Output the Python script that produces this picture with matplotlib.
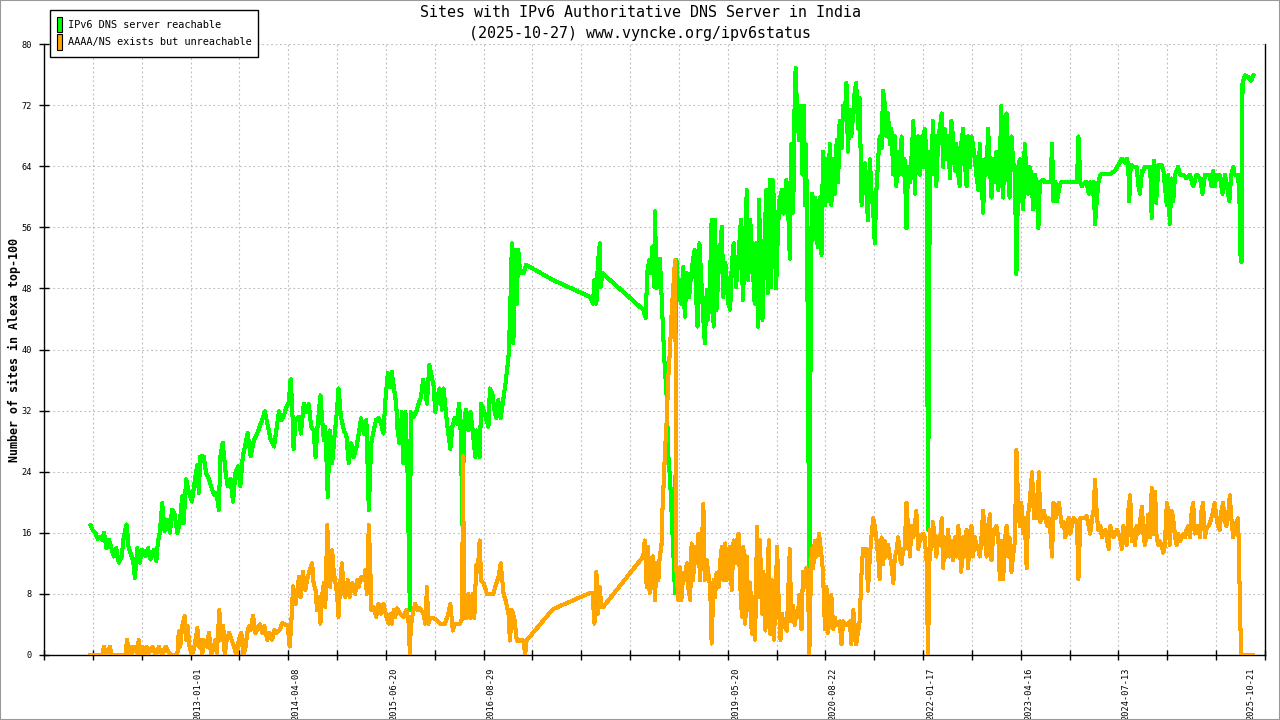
import matplotlib
matplotlib.use("Agg")
import matplotlib.pyplot as plt
from matplotlib.patches import Patch, Rectangle

plt.rcParams['font.family'] = ['DejaVu Sans Mono']

# x is measured in axis tick steps (26 ticks, 0..25), y in number of sites
reachable = [
    (0.95, 17.0), (1.01, 16.2), (1.05, 16.0), (1.10, 15.2), (1.14, 15.5), (1.19, 15.1), (1.23, 16.0),
    (1.28, 14.0), (1.33, 15.1), (1.38, 14.0), (1.43, 12.9), (1.48, 14.0), (1.53, 12.1), (1.59, 12.9),
    (1.63, 15.3), (1.69, 17.1), (1.73, 14.2), (1.77, 13.4), (1.83, 12.1), (1.86, 10.1), (1.91, 14.0),
    (1.96, 12.1), (2.01, 13.8), (2.08, 12.9), (2.13, 14.0), (2.18, 12.5), (2.25, 13.8), (2.30, 12.3),
    (2.33, 14.7), (2.37, 16.0), (2.42, 19.9), (2.47, 16.2), (2.52, 17.7), (2.58, 16.0), (2.62, 19.0),
    (2.67, 18.6), (2.73, 16.0), (2.78, 17.3), (2.83, 20.8), (2.86, 17.3), (2.91, 23.0), (2.97, 21.2),
    (3.03, 20.1), (3.09, 23.0), (3.14, 24.9), (3.17, 21.2), (3.20, 26.0), (3.27, 26.0), (3.32, 23.8),
    (3.38, 23.0), (3.42, 22.1), (3.48, 21.0), (3.53, 21.2), (3.58, 19.0), (3.61, 26.0), (3.66, 27.8),
    (3.72, 23.8), (3.76, 22.1), (3.82, 23.0), (3.87, 20.1), (3.92, 23.8), (3.97, 24.7), (4.02, 22.1),
    (4.07, 26.0), (4.13, 27.8), (4.17, 29.1), (4.23, 26.0), (4.30, 28.2), (4.37, 29.1), (4.42, 30.0),
    (4.47, 30.8), (4.52, 31.9), (4.57, 30.4), (4.64, 28.2), (4.71, 27.3), (4.77, 30.0), (4.81, 31.9),
    (4.86, 30.8), (4.91, 31.3), (4.97, 32.6), (5.01, 33.0), (5.05, 36.1), (5.08, 32.9), (5.11, 27.0),
    (5.15, 30.8), (5.22, 31.2), (5.26, 29.0), (5.32, 32.9), (5.37, 31.8), (5.42, 32.9), (5.47, 29.9),
    (5.52, 29.4), (5.56, 25.9), (5.60, 29.9), (5.66, 34.0), (5.69, 31.2), (5.73, 28.1), (5.76, 29.9),
    (5.81, 20.7), (5.85, 29.4), (5.90, 25.1), (5.95, 28.8), (6.00, 32.1), (6.03, 34.9), (6.08, 31.2),
    (6.14, 29.4), (6.19, 28.8), (6.24, 25.1), (6.29, 27.7), (6.34, 25.9), (6.40, 27.3), (6.44, 28.8),
    (6.49, 31.0), (6.55, 29.0), (6.60, 30.8), (6.65, 19.0), (6.70, 27.7), (6.75, 29.4), (6.80, 30.8),
    (6.85, 31.0), (6.90, 30.3), (6.95, 29.0), (6.99, 33.4), (7.04, 36.9), (7.09, 35.1), (7.12, 37.1),
    (7.17, 34.7), (7.21, 32.9), (7.24, 29.4), (7.28, 27.7), (7.33, 31.8), (7.36, 25.1), (7.40, 31.8),
    (7.44, 25.1), (7.49, 5.9), (7.51, 31.8), (7.57, 31.2), (7.62, 31.8), (7.67, 32.9), (7.72, 33.8),
    (7.76, 36.0), (7.81, 34.7), (7.84, 32.9), (7.89, 38.0), (7.94, 36.4), (7.98, 35.1), (8.01, 31.8),
    (8.06, 33.8), (8.10, 34.9), (8.15, 32.1), (8.18, 34.9), (8.23, 31.8), (8.26, 29.9), (8.32, 27.0),
    (8.36, 29.9), (8.41, 31.0), (8.45, 30.3), (8.50, 32.9), (8.53, 29.4), (8.57, 16.8), (8.60, 30.3),
    (8.64, 32.1), (8.69, 29.4), (8.73, 31.8), (8.77, 29.9), (8.83, 25.9), (8.86, 29.4), (8.92, 25.9),
    (8.95, 32.9), (9.00, 32.1), (9.05, 31.0), (9.10, 29.9), (9.13, 34.9), (9.18, 34.3), (9.22, 32.1),
    (9.26, 31.0), (9.30, 33.4), (9.35, 31.0), (9.41, 33.8), (9.45, 35.6), (9.48, 37.3), (9.51, 39.0),
    (9.54, 43.9), (9.58, 53.9), (9.61, 40.8), (9.65, 53.0), (9.68, 46.0), (9.71, 53.0), (9.75, 50.0),
    (9.82, 50.0), (9.87, 51.1), (10.42, 49.1), (11.18, 46.9),
    (11.24, 46.0), (11.27, 49.1), (11.31, 46.0), (11.34, 51.3), (11.38, 53.9), (11.40, 48.2), (11.43, 50.0),
    (11.85, 47.6), (12.27, 45.2), (12.32, 44.1), (12.35, 50.0), (12.39, 51.7), (12.42, 50.0), (12.46, 53.5),
    (12.49, 48.2), (12.51, 58.1), (12.54, 48.0), (12.58, 50.0), (12.61, 51.9), (12.64, 47.8), (12.68, 41.7),
    (12.71, 37.7), (12.75, 33.8), (12.78, 26.4), (12.82, 22.9), (12.85, 18.6), (12.88, 14.2), (12.92, 8.1),
    (12.95, 51.7), (12.99, 46.5), (13.02, 49.1), (13.05, 46.0), (13.09, 50.8), (13.12, 44.3), (13.16, 50.0),
    (13.21, 46.9), (13.24, 49.1), (13.28, 51.3), (13.32, 53.0), (13.35, 47.4), (13.38, 43.0), (13.42, 53.9),
    (13.47, 47.8), (13.50, 43.9), (13.53, 40.8), (13.57, 47.8), (13.60, 43.9), (13.64, 50.0), (13.67, 57.0),
    (13.71, 43.0), (13.74, 57.0), (13.77, 45.2), (13.81, 50.0), (13.84, 53.0), (13.88, 56.1), (13.91, 46.9),
    (13.95, 51.3), (13.98, 49.1), (14.01, 46.0), (14.05, 45.2), (14.08, 50.8), (14.12, 53.9), (14.17, 48.2),
    (14.22, 52.2), (14.27, 57.0), (14.31, 46.5), (14.35, 53.5), (14.39, 60.9), (14.42, 49.1), (14.46, 57.0),
    (14.51, 51.3), (14.55, 46.0), (14.58, 53.9), (14.62, 43.0), (14.64, 59.6), (14.68, 49.1), (14.71, 43.9),
    (14.75, 53.9), (14.79, 60.9), (14.82, 47.4), (14.86, 62.2), (14.89, 48.2), (14.92, 62.2), (14.96, 57.8),
    (14.99, 48.0), (15.03, 56.1), (15.06, 59.6), (15.11, 60.9), (15.14, 57.8), (15.20, 62.2), (15.23, 59.6),
    (15.27, 51.9), (15.30, 66.9), (15.34, 57.9), (15.37, 72.9), (15.39, 76.9), (15.42, 70.9), (15.46, 67.4),
    (15.49, 71.9), (15.53, 62.9), (15.56, 71.9), (15.58, 58.9), (15.60, 66.9), (15.62, 58.9), (15.65, 30.4),
    (15.67, 2.9), (15.69, 33.9), (15.72, 60.4), (15.75, 54.4), (15.78, 59.9), (15.82, 54.4), (15.85, 53.4),
    (15.88, 59.9), (15.92, 52.4), (15.95, 65.9), (15.99, 58.9), (16.02, 64.9), (16.05, 59.4), (16.09, 66.9),
    (16.12, 58.9), (16.16, 64.9), (16.19, 60.4), (16.23, 67.4), (16.26, 61.9), (16.29, 69.9), (16.33, 66.4),
    (16.36, 71.9), (16.40, 70.9), (16.43, 74.9), (16.46, 65.9), (16.50, 71.4), (16.53, 67.9), (16.57, 70.9),
    (16.60, 73.9), (16.63, 74.9), (16.67, 68.9), (16.70, 72.9), (16.74, 58.9), (16.77, 63.9), (16.81, 64.4),
    (16.84, 60.4), (16.87, 56.9), (16.91, 64.9), (16.94, 60.9), (16.98, 57.9), (17.01, 53.9), (17.04, 60.4),
    (17.08, 64.9), (17.11, 67.9), (17.15, 66.4), (17.18, 73.9), (17.22, 71.9), (17.25, 67.9), (17.28, 70.9),
    (17.32, 66.9), (17.35, 68.9), (17.39, 62.9), (17.42, 67.9), (17.45, 61.4), (17.49, 65.9), (17.52, 62.9),
    (17.56, 67.9), (17.59, 62.9), (17.62, 64.9), (17.66, 55.9), (17.69, 63.9), (17.73, 61.9), (17.76, 64.9),
    (17.80, 69.9), (17.83, 60.4), (17.86, 65.9), (17.90, 67.9), (17.93, 62.9), (17.97, 67.9), (18.00, 63.9),
    (18.03, 68.9), (18.07, 65.9), (18.10, 16.4), (18.14, 65.9), (18.17, 62.9), (18.20, 69.9), (18.24, 63.9),
    (18.27, 61.4), (18.31, 67.9), (18.34, 68.9), (18.38, 70.9), (18.41, 63.9), (18.44, 68.9), (18.48, 64.9),
    (18.51, 67.9), (18.55, 62.4), (18.58, 69.9), (18.61, 67.9), (18.65, 63.4), (18.68, 66.9), (18.72, 62.9),
    (18.75, 61.4), (18.78, 66.9), (18.82, 68.9), (18.85, 64.9), (18.89, 61.4), (18.92, 67.9), (18.96, 63.9),
    (18.99, 67.9), (19.02, 66.9), (19.06, 64.9), (19.09, 62.9), (19.13, 60.9), (19.16, 66.9), (19.19, 62.9),
    (19.23, 57.9), (19.26, 64.9), (19.30, 62.9), (19.33, 68.9), (19.37, 63.9), (19.40, 59.9), (19.43, 64.9),
    (19.47, 61.9), (19.50, 65.9), (19.54, 60.9), (19.57, 63.9), (19.60, 71.9), (19.64, 59.9), (19.67, 69.9),
    (19.71, 70.9), (19.74, 62.9), (19.77, 59.9), (19.81, 67.9), (19.84, 64.9), (19.88, 62.9), (19.91, 49.9),
    (19.95, 63.9), (19.98, 64.9), (20.01, 60.9), (20.05, 58.4), (20.08, 66.9), (20.12, 62.9), (20.15, 60.4),
    (20.18, 63.9), (20.22, 62.9), (20.25, 58.4), (20.29, 62.9), (20.32, 61.9), (20.36, 55.9), (20.39, 61.9),
    (20.46, 62.2), (20.50, 61.9), (20.61, 61.9), (20.64, 66.9), (20.67, 59.4), (20.71, 61.9), (20.74, 59.4),
    (20.78, 60.9), (20.82, 61.9), (21.15, 61.9), (21.18, 67.9), (21.22, 61.9), (21.25, 61.4), (21.32, 61.9),
    (21.35, 61.9), (21.39, 60.4), (21.42, 61.9), (21.46, 60.4), (21.49, 61.9), (21.52, 56.4), (21.56, 59.9),
    (21.59, 61.9), (21.63, 62.9), (21.69, 63.0), (21.83, 63.0), (21.93, 63.4), (22.00, 64.2), (22.07, 65.0),
    (22.14, 64.4), (22.17, 65.0), (22.20, 64.2), (22.22, 59.4), (22.25, 64.2), (22.31, 63.9), (22.37, 63.9),
    (22.41, 61.4), (22.44, 60.4), (22.48, 63.4), (22.51, 63.4), (22.54, 63.9), (22.58, 63.9), (22.65, 63.9),
    (22.68, 57.2), (22.73, 64.7), (22.77, 59.2), (22.82, 64.2), (22.88, 64.2), (22.92, 63.4), (22.99, 58.9),
    (23.02, 62.9), (23.05, 56.4), (23.09, 62.4), (23.12, 59.4), (23.16, 62.9), (23.22, 63.9), (23.26, 62.9),
    (23.33, 62.9), (23.39, 62.4), (23.46, 62.9), (23.53, 61.4), (23.60, 62.9), (23.67, 62.4), (23.72, 60.4),
    (23.77, 62.9), (23.87, 62.9), (23.90, 61.4), (23.94, 63.4), (23.97, 61.4), (24.01, 62.9), (24.07, 62.9),
    (24.13, 60.4), (24.18, 62.9), (24.21, 61.9), (24.27, 59.4), (24.31, 62.9), (24.35, 63.9), (24.38, 62.9),
    (24.45, 62.9), (24.48, 58.9), (24.50, 51.9), (24.52, 51.4), (24.54, 74.9), (24.59, 75.9), (24.65, 75.7),
    (24.72, 75.2), (24.76, 75.9),
]

unreachable = [
    (0.95, 0.0), (1.19, 0.0), (1.23, 1.1), (1.26, 0.0), (1.35, 1.1), (1.38, 0.0), (1.67, 0.0), (1.70, 2.0),
    (1.74, 0.3), (1.77, 1.1), (1.80, 0.0), (1.84, 1.1), (1.91, 0.3), (1.94, 2.0), (1.97, 0.0), (2.01, 1.1),
    (2.06, 0.0), (2.10, 1.1), (2.15, 0.3), (2.22, 1.1), (2.29, 0.0), (2.35, 1.1), (2.42, 0.0), (2.49, 1.1),
    (2.56, 0.3), (2.62, 0.0), (2.73, 0.0), (2.76, 3.1), (2.79, 1.1), (2.83, 3.8), (2.88, 5.1), (2.91, 2.0),
    (2.94, 3.8), (2.98, 1.1), (3.03, 0.0), (3.08, 1.1), (3.14, 3.5), (3.17, 1.1), (3.20, 2.0), (3.24, 0.0),
    (3.27, 2.0), (3.33, 1.1), (3.38, 2.9), (3.42, 0.0), (3.48, 1.1), (3.51, 2.0), (3.54, 0.3), (3.59, 5.9),
    (3.62, 2.0), (3.67, 3.8), (3.70, 0.0), (3.74, 2.0), (3.79, 2.9), (3.84, 2.0), (3.89, 1.1), (3.94, 0.0),
    (3.99, 2.0), (4.04, 2.9), (4.08, 0.0), (4.13, 1.1), (4.16, 2.9), (4.20, 3.8), (4.23, 3.3), (4.28, 5.1),
    (4.33, 2.9), (4.36, 3.3), (4.42, 4.0), (4.47, 2.9), (4.51, 3.8), (4.57, 2.0), (4.62, 2.9), (4.67, 2.0),
    (4.72, 3.3), (4.77, 2.9), (4.83, 3.3), (4.88, 4.2), (4.94, 4.0), (4.99, 3.8), (5.03, 1.1), (5.06, 3.8),
    (5.10, 9.0), (5.15, 6.7), (5.18, 8.0), (5.22, 10.2), (5.26, 7.6), (5.30, 10.9), (5.35, 8.5), (5.40, 10.2),
    (5.44, 11.1), (5.49, 12.0), (5.52, 9.4), (5.56, 8.5), (5.59, 5.9), (5.63, 7.6), (5.66, 4.1), (5.69, 7.6),
    (5.73, 9.4), (5.76, 6.3), (5.80, 17.0), (5.83, 12.4), (5.86, 8.9), (5.90, 13.7), (5.93, 11.1), (6.00, 8.0),
    (6.03, 5.0), (6.07, 9.8), (6.10, 12.0), (6.14, 8.0), (6.17, 7.6), (6.22, 9.8), (6.26, 7.6), (6.31, 9.4),
    (6.34, 8.5), (6.37, 8.0), (6.41, 9.8), (6.44, 8.9), (6.48, 10.0), (6.51, 10.2), (6.55, 9.8), (6.58, 11.1),
    (6.61, 8.0), (6.65, 17.0), (6.68, 12.0), (6.70, 5.9), (6.75, 6.3), (6.80, 5.0), (6.85, 6.7), (6.90, 5.4),
    (6.95, 6.7), (7.01, 5.0), (7.06, 4.1), (7.09, 5.4), (7.12, 4.1), (7.16, 5.9), (7.19, 5.0), (7.23, 6.1),
    (7.29, 5.4), (7.36, 5.0), (7.42, 5.9), (7.47, 4.1), (7.49, 0.0), (7.51, 3.7), (7.55, 5.4), (7.60, 6.7),
    (7.65, 5.9), (7.70, 6.1), (7.77, 5.4), (7.81, 4.1), (7.84, 8.9), (7.87, 4.1), (7.91, 4.8), (7.98, 4.8),
    (8.04, 4.6), (8.11, 4.1), (8.21, 4.1), (8.28, 5.4), (8.32, 6.7), (8.37, 3.2), (8.41, 4.1), (8.52, 4.1),
    (8.56, 4.8), (8.58, 26.0), (8.60, 6.7), (8.64, 4.8), (8.69, 8.0), (8.73, 4.8), (8.78, 8.0), (8.81, 4.8),
    (8.85, 11.8), (8.88, 10.9), (8.92, 15.0), (8.95, 9.8), (9.00, 9.4), (9.07, 8.0), (9.13, 8.0), (9.20, 8.0),
    (9.26, 9.4), (9.30, 10.0), (9.35, 12.0), (9.41, 8.0), (9.45, 7.2), (9.51, 5.4), (9.54, 1.9), (9.58, 5.9),
    (9.63, 4.8), (9.68, 1.9), (9.75, 1.9), (9.82, 1.9), (9.85, 0.0), (9.88, 1.9), (10.42, 6.0), (11.17, 8.1),
    (11.23, 8.1), (11.27, 4.1), (11.31, 10.9), (11.34, 5.4), (11.38, 8.9), (11.41, 6.3), (11.45, 6.3),
    (12.27, 12.9), (12.30, 15.0), (12.34, 8.9), (12.37, 14.2), (12.40, 8.1), (12.44, 11.1), (12.47, 12.9),
    (12.51, 7.2), (12.54, 12.0), (12.58, 9.8), (12.61, 13.3), (12.64, 13.7), (12.66, 18.5), (12.69, 22.9),
    (12.72, 27.3), (12.75, 30.8), (12.78, 36.0), (12.82, 40.4), (12.85, 44.7), (12.88, 47.8), (12.92, 51.7),
    (12.94, 31.6), (12.95, 11.1), (12.99, 7.2), (13.02, 11.5), (13.05, 7.2), (13.09, 10.7), (13.12, 9.8),
    (13.16, 12.0), (13.19, 8.9), (13.23, 7.2), (13.26, 14.6), (13.29, 9.8), (13.33, 14.2), (13.36, 12.0),
    (13.40, 15.9), (13.43, 9.8), (13.47, 14.2), (13.50, 19.8), (13.53, 9.8), (13.57, 12.4), (13.60, 10.7),
    (13.64, 8.9), (13.67, 1.5), (13.71, 9.8), (13.74, 7.6), (13.77, 10.7), (13.81, 8.9), (13.84, 12.0),
    (13.88, 14.2), (13.91, 9.8), (13.95, 14.6), (13.98, 9.8), (14.01, 12.0), (14.05, 14.2), (14.08, 8.5),
    (14.12, 15.0), (14.15, 12.0), (14.18, 14.6), (14.22, 15.9), (14.25, 9.8), (14.29, 5.0), (14.32, 14.2),
    (14.36, 4.1), (14.39, 12.9), (14.42, 5.9), (14.46, 9.4), (14.49, 2.8), (14.53, 7.6), (14.56, 2.0),
    (14.60, 16.8), (14.63, 7.6), (14.66, 15.0), (14.70, 5.4), (14.73, 10.9), (14.77, 3.2), (14.80, 7.6),
    (14.84, 15.0), (14.87, 2.8), (14.90, 9.8), (14.94, 2.0), (14.97, 5.4), (15.01, 14.2), (15.04, 7.6),
    (15.08, 2.0), (15.11, 5.4), (15.14, 4.1), (15.21, 3.2),
    (15.27, 13.9), (15.30, 4.4), (15.34, 6.4), (15.37, 3.9), (15.40, 5.4), (15.43, 4.9), (15.47, 7.9),
    (15.51, 3.4), (15.54, 10.9), (15.57, 8.9), (15.61, 11.4), (15.64, 10.4), (15.67, 0.0), (15.69, 6.9),
    (15.72, 13.9), (15.75, 11.4), (15.78, 14.9), (15.82, 12.9), (15.87, 15.9), (15.92, 12.9), (15.95, 10.9),
    (15.99, 3.4), (16.02, 8.9), (16.05, 2.9), (16.09, 4.9), (16.12, 7.9), (16.16, 3.4), (16.19, 4.9),
    (16.23, 3.9), (16.29, 4.4), (16.33, 1.4), (16.36, 4.4), (16.43, 3.9), (16.50, 4.4), (16.53, 1.4),
    (16.57, 5.9), (16.63, 1.4), (16.70, 4.4), (16.74, 10.9), (16.77, 13.9), (16.81, 12.9), (16.84, 13.9),
    (16.87, 8.4), (16.91, 12.9), (16.94, 15.4), (16.98, 17.9), (17.01, 16.9), (17.04, 15.4), (17.08, 12.9),
    (17.11, 9.9), (17.15, 15.4), (17.18, 11.9), (17.22, 14.9), (17.25, 12.9), (17.28, 14.4), (17.32, 12.9),
    (17.35, 11.9), (17.39, 9.4), (17.42, 12.9), (17.45, 13.4), (17.49, 15.4), (17.52, 12.9), (17.56, 11.9),
    (17.59, 13.9), (17.62, 13.9), (17.66, 19.9), (17.69, 16.9), (17.73, 12.9), (17.76, 16.9), (17.80, 15.4),
    (17.83, 16.9), (17.86, 18.9), (17.90, 13.9), (17.93, 14.9), (17.97, 15.4), (18.00, 15.9), (18.03, 15.4),
    (18.07, 12.4), (18.10, 0.0), (18.14, 16.4), (18.17, 13.9), (18.20, 17.4), (18.24, 15.4), (18.27, 12.9),
    (18.31, 15.4), (18.34, 14.4), (18.38, 17.9), (18.41, 11.4), (18.44, 15.4), (18.48, 12.9), (18.51, 16.4),
    (18.55, 12.9), (18.58, 14.9), (18.61, 12.4), (18.65, 15.4), (18.68, 12.9), (18.72, 16.9), (18.75, 14.4),
    (18.78, 10.9), (18.82, 15.4), (18.85, 12.9), (18.89, 16.4), (18.92, 11.4), (18.96, 15.9), (18.99, 16.9),
    (19.02, 12.9), (19.06, 15.4), (19.09, 14.4), (19.13, 13.9), (19.16, 12.9), (19.19, 14.9), (19.23, 18.9),
    (19.26, 15.4), (19.30, 12.9), (19.33, 16.9), (19.37, 18.4), (19.40, 12.4), (19.43, 15.4), (19.47, 16.4),
    (19.50, 16.9), (19.54, 15.4), (19.57, 9.9), (19.60, 14.9), (19.64, 9.9), (19.67, 14.9), (19.71, 16.9),
    (19.74, 12.9), (19.77, 15.4), (19.81, 10.9), (19.84, 12.9), (19.88, 14.9), (19.91, 26.9), (19.95, 18.9),
    (19.98, 16.9), (20.01, 19.9), (20.05, 15.9), (20.08, 17.9), (20.12, 11.4), (20.15, 18.4), (20.18, 19.9),
    (20.23, 23.9), (20.27, 17.9), (20.30, 20.9), (20.33, 17.9), (20.37, 23.9), (20.40, 17.4), (20.44, 18.9),
    (20.47, 18.9), (20.50, 17.9), (20.54, 16.9), (20.57, 17.9), (20.61, 15.9), (20.64, 12.9), (20.67, 19.9),
    (20.71, 17.9), (20.74, 19.4), (20.78, 19.9), (20.81, 18.4), (20.84, 16.9), (20.88, 17.4), (20.91, 15.4),
    (20.95, 16.9), (20.98, 17.9), (21.01, 15.9), (21.08, 17.9), (21.15, 17.4), (21.18, 9.9), (21.22, 17.9),
    (21.29, 17.9), (21.35, 18.2), (21.39, 16.9), (21.42, 15.9), (21.46, 17.9), (21.49, 18.9), (21.52, 22.9),
    (21.56, 17.9), (21.59, 16.4), (21.63, 16.9), (21.66, 15.4), (21.73, 16.4), (21.80, 13.9), (21.83, 16.9),
    (21.90, 15.4), (21.97, 16.4), (22.03, 15.4), (22.07, 13.9), (22.10, 16.9), (22.14, 14.9), (22.17, 14.4),
    (22.20, 18.9), (22.24, 20.9), (22.27, 14.9), (22.31, 16.4), (22.34, 14.4), (22.37, 16.9), (22.41, 15.9),
    (22.44, 17.4), (22.48, 19.4), (22.51, 15.9), (22.54, 14.4), (22.58, 15.9), (22.61, 18.4), (22.65, 15.4),
    (22.68, 21.9), (22.71, 15.9), (22.75, 21.4), (22.78, 15.4), (22.82, 14.4), (22.85, 14.9), (22.88, 14.4),
    (22.92, 13.4), (22.95, 14.4), (22.99, 19.9), (23.02, 18.9), (23.05, 14.4), (23.09, 18.9), (23.12, 17.9),
    (23.16, 15.4), (23.19, 14.4), (23.22, 15.9), (23.26, 14.9), (23.29, 15.4), (23.33, 15.9), (23.36, 15.4),
    (23.39, 16.4), (23.43, 16.9), (23.46, 15.4), (23.50, 18.9), (23.53, 19.9), (23.56, 15.9), (23.60, 16.4),
    (23.63, 16.9), (23.67, 15.4), (23.70, 18.9), (23.73, 19.9), (23.77, 15.4), (23.80, 16.4), (23.84, 16.9),
    (23.87, 17.2), (23.90, 17.9), (23.94, 18.9), (23.97, 19.9), (24.01, 17.9), (24.04, 16.9), (24.07, 16.4),
    (24.11, 18.9), (24.14, 19.9), (24.18, 17.4), (24.21, 16.9), (24.24, 17.9), (24.28, 20.9), (24.31, 17.9),
    (24.35, 15.4), (24.38, 16.9), (24.41, 17.4), (24.45, 17.9), (24.48, 8.9), (24.50, 2.9), (24.52, 0.0),
    (24.76, 0.0),
]

date_labels = ["2013-01-01", "2014-04-08", "2015-06-20", "2016-08-29", "2019-05-20",
               "2020-08-22", "2022-01-17", "2023-04-16", "2024-07-13", "2025-10-21"]
date_pos = [3.16, 5.16, 7.16, 9.16, 14.16, 16.16, 18.16, 20.16, 22.16, 24.71]

title = "Sites with IPv6 Authoritative DNS Server in India\n(2025-10-27) www.vyncke.org/ipv6status"
series_names = ["IPv6 DNS server reachable", "AAAA/NS exists but unreachable"]
green = "#00ff00"
orange = "#ffa500"

fig = plt.figure(figsize=(12.8, 7.2), dpi=100)
ax = fig.add_axes([44 / 1280, 65 / 720, 1221 / 1280, 611 / 720])

gx, gy = zip(*reachable)
ox, oy = zip(*unreachable)
ax.plot(gx, gy, color=green, lw=2.2, antialiased=False, zorder=3)
ax.plot(ox, oy, color=orange, lw=2.2, antialiased=False, zorder=4)

ax.set_xlim(0, 25)
ax.set_ylim(0, 80)
ax.set_yticks(range(0, 81, 8))
ax.set_xticks(range(0, 26))
ax.set_xticklabels([])
ax.set_xticks(date_pos, minor=True)
ax.set_xticklabels(date_labels, minor=True, rotation=90)
ax.tick_params(axis="x", which="minor", length=0, pad=9, labelsize=6.2)
ax.tick_params(axis="x", which="major", direction="inout", length=7, width=1)
ax.tick_params(axis="y", direction="inout", length=7, width=1, pad=5, labelsize=6.2)
ax.grid(True, which="major", color="#bdbdbd", linestyle=(0, (1.6, 2.4)), lw=0.8, zorder=0)
ax.set_axisbelow(True)
ax.spines["top"].set_visible(False)
for s in ("left", "bottom", "right"):
    ax.spines[s].set_linewidth(1)

fig.text(0.5, 1 - 23 / 720, title, ha="center", va="center", fontsize=10.8, linespacing=1.5)
fig.text(14 / 1280, 1 - 350 / 720, "Number of sites in Alexa top-100", rotation=90,
         ha="center", va="center", fontsize=8.4, fontweight="bold")

handles = [Patch(facecolor=green, edgecolor="black", lw=0.8, label=series_names[0]),
           Patch(facecolor=orange, edgecolor="black", lw=0.8, label=series_names[1])]
leg = ax.legend(handles=handles, loc="upper left", bbox_to_anchor=(50 / 1280, 1 - 10 / 720),
                bbox_transform=fig.transFigure, fontsize=7.4, frameon=True, fancybox=False,
                edgecolor="black", framealpha=1, borderaxespad=0, borderpad=0.65,
                handlelength=0.55, handleheight=1.95, handletextpad=0.55, labelspacing=0.2)
leg.get_frame().set_linewidth(1)

fig.patches.append(Rectangle((0, 0), 1, 1, transform=fig.transFigure, fill=False,
                             edgecolor="#999999", lw=1.5))

fig.savefig("out.png", dpi=100)
